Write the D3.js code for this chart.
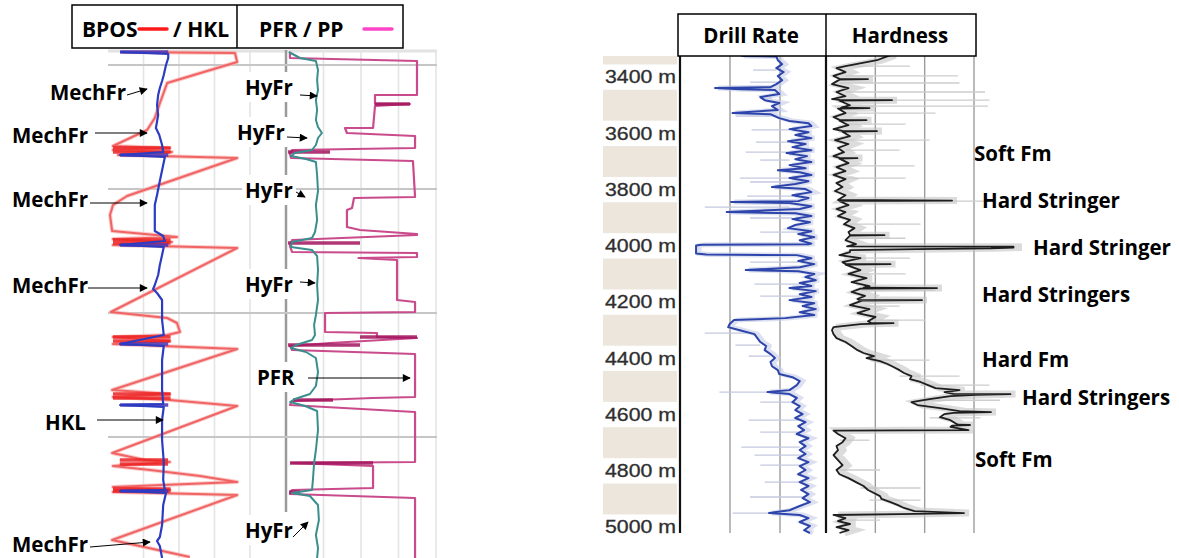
<!DOCTYPE html>
<html><head><meta charset="utf-8">
<script src="https://cdn.jsdelivr.net/npm/d3@7/dist/d3.min.js"></script>
<style>body{margin:0;background:#fff}svg{display:block}</style>
</head><body>
<svg id="c" width="1179" height="558"></svg>
<script>
// ---------------- DATA ----------------
// Left panel: time index (t) vs values
const bposData = [[2,2.8],[3,29.3],[12,29.8],[33,13.4],[53,11.7],[68,10.5],[80,8.7],[88,4.7],[96,0.7],[98,14],[100,0.7],[102,14.5],[105,1.9],[108,29.8],[146,4],[155,0.7],[165,0],[181,0.5],[187,15.7],[189,0.7],[192,14.5],[195,0.7],[198,29.8],[262,0.2],[268,13.4],[273,15.7],[282,16.4],[285,13.4],[287,0.7],[291,14],[294,0.7],[299,29.8],[340,0.5],[344,14],[347,0.7],[350,14],[356,29.8],[403,0.5],[410,8.2],[412,14],[416,0.7],[420,9.4],[426,21.1],[432,29.8],[437,0.7],[440,14],[442,0.7],[445,29.8],[490,0.5],[507,18.7]];
const bposSlips = [[98,0.7,14.2],[102,0.7,14.2],[190,0.7,14.2],[193,0.7,14.2],[287,0.7,14.2],[291,0.7,14.2],[344,0.7,14.2],[348,0.7,14.2],[410,2.3,13.6],[414,2.3,13.6],[439,0.7,14.2],[441,0.7,14.2]];
const hklData = [[2,18],[4,104],[8,104],[15,100],[25,96],[31,93],[38,89],[45,86],[55,84],[65,86],[78,82],[85,88],[95,93],[102,95],[105,18],[107,98],[115,95],[131,89],[145,84],[155,80],[170,80],[181,80],[186,95],[191,98],[195,18],[197,96],[205,93],[215,89],[225,86],[235,80],[239,77],[243,84],[250,93],[270,93],[285,96],[294,18],[296,96],[310,93],[340,93],[354,95],[355,18],[357,96],[370,93],[390,93],[412,96],[430,95],[440,98],[441,18],[443,100],[455,95],[475,93],[487,89],[491,84],[496,89],[508,93]];
const hklSlips = [[2,18,104],[105,18,104],[195,18,104],[294,18,104],[355,18,104],[441,18,104]];
const pfrData = [[2,13],[8,13],[11,860],[45,860],[45,580],[54,580],[54,813],[56,580],[78,567],[78,380],[83,393],[86,847],[98,847],[100,27],[104,13],[108,20],[111,833],[147,847],[148,440],[158,427],[160,393],[177,393],[180,480],[184,860],[185,860],[190,27],[196,13],[202,27],[203,860],[207,860],[208,470],[210,727],[250,727],[252,847],[262,847],[263,247],[282,247],[283,593],[287,593],[288,860],[293,280],[296,13],[300,27],[304,847],[347,847],[348,567],[351,27],[355,13],[362,847],[412,847],[413,27],[416,567],[438,567],[440,27],[444,13],[448,847],[508,847]];
const pfrSlips = [[54,580,813],[102,0,280],[193,0,480],[287,480,860],[295,0,480],[350,33,300],[413,13,567],[442,7,80]];
const ppData = [[2,3],[8,40],[11,93],[20,100],[30,97],[40,100],[50,93],[60,97],[70,93],[77,100],[83,113],[88,100],[95,93],[100,80],[103,23],[106,10],[109,60],[112,93],[125,97],[141,100],[155,93],[170,97],[182,90],[188,80],[192,13],[197,10],[200,80],[206,97],[220,100],[235,97],[250,100],[265,93],[275,87],[285,90],[290,80],[295,27],[298,10],[302,60],[308,93],[322,100],[336,93],[344,73],[349,23],[352,7],[356,57],[361,97],[380,100],[400,93],[413,87],[430,83],[440,80],[443,13],[446,73],[455,100],[470,103],[485,93],[498,100],[508,97]];
const leftGridTimes = [15, 139, 263, 387];
const leftGridCols = [1, 2, 3, 4];

// Right panel: depth (m) vs values
const depthTicks = [3400, 3600, 3800, 4000, 4200, 4400, 4600, 4800, 5000];
const depthBands = [3300, 3500, 3700, 3900, 4100, 4300, 4500, 4700, 4900];
const drillRate = [[3325,42],[3327,66],[3340,67],[3354,70],[3368,66],[3382,71],[3396,67],[3411,70],[3425,66],[3436,62],[3439,24],[3443,41],[3446,65],[3460,68],[3471,55],[3482,58],[3492,68],[3503,63],[3517,67],[3528,36],[3532,62],[3546,68],[3556,75],[3564,88],[3574,90],[3585,75],[3596,88],[3606,79],[3617,90],[3628,74],[3638,86],[3649,77],[3660,90],[3670,73],[3681,87],[3692,79],[3702,90],[3713,75],[3724,86],[3731,67],[3738,82],[3748,90],[3759,75],[3770,88],[3780,79],[3791,63],[3798,86],[3809,90],[3820,77],[3830,88],[3841,81],[3844,35],[3848,75],[3859,90],[3869,82],[3880,32],[3884,79],[3894,90],[3905,77],[3916,89],[3926,79],[3937,74],[3948,90],[3958,81],[3969,92],[3980,82],[3992,90],[3994,88],[3996,15],[3999,11],[4027,11],[4031,18],[4033,80],[4044,90],[4054,81],[4065,92],[4076,82],[4086,45],[4090,81],[4100,92],[4111,86],[4122,93],[4132,82],[4143,90],[4150,75],[4161,93],[4172,82],[4182,90],[4193,75],[4204,92],[4214,84],[4225,93],[4236,82],[4246,92],[4257,72],[4264,37],[4278,34],[4289,33],[4300,41],[4314,51],[4328,53],[4342,55],[4356,59],[4371,58],[4385,62],[4399,65],[4413,62],[4428,63],[4442,67],[4456,68],[4467,77],[4481,82],[4495,80],[4513,75],[4520,60],[4527,75],[4541,80],[4556,77],[4570,82],[4584,79],[4598,84],[4612,79],[4627,86],[4641,81],[4655,85],[4669,80],[4684,88],[4698,82],[4712,86],[4726,82],[4740,86],[4755,81],[4769,88],[4783,82],[4797,86],[4812,81],[4826,88],[4840,82],[4854,88],[4868,83],[4883,88],[4897,84],[4911,89],[4925,82],[4940,75],[4950,61],[4957,82],[4968,88],[4982,82],[4996,89],[5011,85],[5021,89]];
const drillSpikes = [[3375,50,66],[3418,48,67],[3475,55,63],[3539,38,62],[3588,49,75],[3631,52,74],[3667,45,74],[3695,55,75],[3759,41,75],[3773,48,82],[3823,46,77],[3862,17,75],[3901,48,77],[3951,55,82],[4058,48,81],[4136,51,82],[4179,55,82],[4310,17,51],[4353,38,55],[4392,47,62],[4520,27,60],[4556,55,77],[4620,47,81],[4662,55,82],[4716,42,82],[4744,51,84],[4780,55,82],[4840,58,86],[4893,48,84],[4950,36,61]];
const hardness = [[3322,43],[3340,34],[3361,13],[3368,7],[3382,13],[3396,5],[3406,9],[3407,28],[3409,9],[3425,4],[3439,15],[3453,7],[3468,13],[3478,4],[3481,9],[3482,44],[3484,9],[3500,16],[3509,10],[3510,29],[3512,8],[3528,13],[3542,5],[3552,9],[3553,27],[3555,9],[3571,15],[3585,5],[3591,11],[3592,34],[3594,11],[3610,16],[3624,6],[3638,15],[3652,8],[3667,12],[3681,5],[3687,9],[3688,21],[3690,9],[3706,15],[3720,7],[3734,13],[3748,5],[3763,13],[3777,7],[3791,11],[3805,6],[3820,13],[3837,8],[3839,84],[3841,9],[3855,15],[3869,7],[3880,13],[3894,8],[3908,16],[3923,12],[3937,19],[3951,15],[3961,16],[3962,39],[3964,16],[3980,13],[3994,20],[4002,14],[4003,125],[4006,125],[4009,110],[4012,60],[4015,16],[4022,16],[4033,9],[4044,23],[4058,11],[4064,13],[4065,43],[4067,13],[4086,23],[4100,15],[4115,27],[4129,17],[4143,29],[4149,25],[4150,74],[4152,23],[4164,17],[4178,26],[4189,21],[4192,22],[4193,64],[4195,24],[4211,16],[4225,29],[4239,21],[4253,33],[4268,28],[4274,30],[4275,45],[4278,23],[4289,5],[4300,4],[4314,5],[4328,7],[4342,13],[4356,17],[4371,21],[4381,25],[4392,32],[4399,27],[4410,36],[4420,41],[4431,45],[4442,49],[4452,52],[4463,57],[4474,56],[4484,63],[4495,68],[4506,73],[4513,89],[4520,79],[4526,85],[4527,123],[4530,100],[4534,83],[4545,69],[4556,57],[4566,61],[4577,76],[4588,89],[4591,110],[4594,85],[4598,79],[4609,76],[4620,83],[4630,86],[4636,88],[4637,96],[4639,84],[4644,83],[4655,95],[4656,50],[4657,5],[4669,8],[4684,13],[4698,11],[4712,7],[4726,8],[4744,5],[4762,8],[4780,11],[4797,7],[4812,9],[4826,15],[4840,20],[4854,25],[4868,28],[4879,32],[4890,36],[4900,37],[4911,43],[4922,48],[4932,52],[4943,59],[4950,92],[4954,49],[4957,5],[4968,13],[4979,8],[4989,16],[5000,7],[5011,15],[5021,9]];
const hardSpikes = [[3361,16,56],[3396,13,88],[3421,9,89],[3453,13,106],[3482,16,109],[3503,16,108],[3528,13,73],[3567,13,53],[3624,9,69],[3660,13,49],[3716,9,59],[3759,9,53],[3841,84,108],[3923,16,63],[3973,16,53],[4044,16,56],[4100,16,53],[4157,23,73],[4214,23,49],[4264,29,66],[4406,29,69],[4463,49,89],[4495,63,109],[4549,63,116],[4612,69,103],[4691,9,29],[4797,9,36],[4861,23,63],[4904,29,63],[4975,9,36]];
const rightNotes = ["Soft Fm","Hard Stringer","Hard Stringer","Hard Stringers","Hard Fm","Hard Stringers","Soft Fm"];

// ---------------- SCALES ----------------
const tY = d3.scaleLinear().domain([0,508]).range([50,558]);
const bposX = d3.scaleLinear().domain([0,30]).range([110,238]);
const hklX = d3.scaleLinear().domain([0,250]).range([110,250]);
const pfrX = d3.scaleLinear().domain([0,1000]).range([288,438]);
const ppX = d3.scaleLinear().domain([0,500]).range([288,438]);
const gridL1 = d3.scaleLinear().domain([0,4]).range([108,250]);
const gridL2 = d3.scaleLinear().domain([0,4]).range([286,436]);

const dY = d3.scaleLinear().domain([3325,5021]).range([56,533]);
const drillX = d3.scaleLinear().domain([0,100]).range([680,826]);
const hardX = d3.scaleLinear().domain([0,100]).range([826,976]);
const gridR1 = d3.scaleLinear().domain([0,3]).range([680,830]);
const gridR2 = d3.scaleLinear().domain([0,3]).range([826,974]);

const svg = d3.select("#c");
const FONT = "'Open Sans', 'DejaVu Sans', sans-serif";

svg.append("defs").append("marker").attr("id","arr").attr("viewBox","0 0 10 10")
  .attr("refX",9).attr("refY",5).attr("markerWidth",9).attr("markerHeight",8)
  .attr("markerUnits","userSpaceOnUse").attr("orient","auto")
  .append("path").attr("d","M0,0L10,5L0,10Z").attr("fill","#000");

// ---------------- LEFT PANEL ----------------
const L = svg.append("g");
L.append("line").attr("x1",108).attr("x2",437).attr("y1",tY(1)).attr("y2",tY(1)).attr("stroke","#e2e2e2").attr("stroke-width",3);
L.selectAll(".vg1").data(leftGridCols).join("line")
  .attr("x1",d=>gridL1(d)).attr("x2",d=>gridL1(d)).attr("y1",tY(0)).attr("y2",tY(508))
  .attr("stroke","#e4e4e4").attr("stroke-width",1.6);
L.selectAll(".vg2").data(leftGridCols).join("line")
  .attr("x1",d=>gridL2(d)).attr("x2",d=>gridL2(d)).attr("y1",tY(0)).attr("y2",tY(508))
  .attr("stroke","#e4e4e4").attr("stroke-width",1.6);
L.append("line").attr("x1",gridL2(0)).attr("x2",gridL2(0)).attr("y1",tY(0)).attr("y2",tY(462))
  .attr("stroke","#9a9a9a").attr("stroke-width",2.5);
L.selectAll(".hg").data(leftGridTimes).join("line")
  .attr("x1",108).attr("x2",437).attr("y1",d=>tY(d)).attr("y2",d=>tY(d))
  .attr("stroke","#c6c6c6").attr("stroke-width",2);

const lineL = (xs) => d3.line().x(d=>xs(d[1])).y(d=>tY(d[0]));
L.append("path").datum(bposData).attr("d",lineL(bposX)).attr("fill","none")
  .attr("stroke","#f8b4b4").attr("stroke-width",4).attr("stroke-linejoin","round").attr("opacity",0.7);
L.append("path").datum(bposData).attr("d",lineL(bposX)).attr("fill","none")
  .attr("stroke","#f06464").attr("stroke-width",2).attr("stroke-linejoin","round");
L.selectAll(".bs").data(bposSlips).join("line")
  .attr("x1",d=>bposX(d[1])).attr("x2",d=>bposX(d[2])).attr("y1",d=>tY(d[0])).attr("y2",d=>tY(d[0]))
  .attr("stroke","#ee2222").attr("stroke-width",3.5).attr("opacity",0.85);
L.selectAll(".hs").data(hklSlips).join("line")
  .attr("x1",d=>hklX(d[1])).attr("x2",d=>hklX(d[2])).attr("y1",d=>tY(d[0])).attr("y2",d=>tY(d[0]))
  .attr("stroke","#4a35b5").attr("stroke-width",3.5).attr("opacity",0.85);
L.append("path").datum(hklData).attr("d",lineL(hklX)).attr("fill","none")
  .attr("stroke","#2c3cc2").attr("stroke-width",2.2).attr("stroke-linejoin","round");

L.append("path").datum(pfrData).attr("d",lineL(pfrX)).attr("fill","none")
  .attr("stroke","#c94b8c").attr("stroke-width",2.2).attr("stroke-linejoin","round");
L.selectAll(".ps").data(pfrSlips).join("line")
  .attr("x1",d=>pfrX(d[1])).attr("x2",d=>pfrX(d[2])).attr("y1",d=>tY(d[0])).attr("y2",d=>tY(d[0]))
  .attr("stroke","#a3145e").attr("stroke-width",3.5).attr("opacity",0.85);
L.append("path").datum(ppData).attr("d",lineL(ppX)).attr("fill","none")
  .attr("stroke","#3a8f8e").attr("stroke-width",2).attr("stroke-linejoin","round");

// left labels (annotations)
const leftNotes = [
  {t:"MechFr", x:50, y:100, a:[127,95,147,89]},
  {t:"MechFr", x:12, y:143, a:[95,133,147,133]},
  {t:"MechFr", x:12, y:207, a:[90,203,147,203]},
  {t:"MechFr", x:12, y:293, a:[88,288,147,288]},
  {t:"HKL", x:45, y:430, a:[97,420,163,420]},
  {t:"MechFr", x:12, y:552, a:[90,547,150,542]},
  {t:"HyFr", x:245, y:95, a:[300,95,317,96]},
  {t:"HyFr", x:237, y:140, a:[287,137,307,138]},
  {t:"HyFr", x:245, y:198, a:[296,192,305,197]},
  {t:"HyFr", x:245, y:292, a:[300,282,315,283]},
  {t:"PFR", x:257, y:385, a:[308,378,410,378]},
  {t:"HyFr", x:245, y:538, a:[293,537,308,522]}
];
const N = svg.append("g");
leftNotes.forEach(n => {
  const bg = N.append("rect").attr("fill","#fff");
  const tx = N.append("text").attr("x",n.x).attr("y",n.y).text(n.t)
    .attr("font-family",FONT).attr("font-weight",700).attr("font-size",20.5).attr("fill","#000");
  const b = tx.node().getBBox();
  bg.attr("x",b.x-3).attr("y",b.y-1).attr("width",b.width+6).attr("height",b.height+2);
  N.append("line").attr("x1",n.a[0]).attr("y1",n.a[1]).attr("x2",n.a[2]).attr("y2",n.a[3])
    .attr("stroke","#000").attr("stroke-width",1).attr("marker-end","url(#arr)");
});

// left header
const H = svg.append("g");
H.append("rect").attr("x",72).attr("y",5).attr("width",331).attr("height",43).attr("fill","#fff").attr("stroke","#000").attr("stroke-width",1.5);
H.append("line").attr("x1",237).attr("x2",237).attr("y1",5).attr("y2",48).attr("stroke","#000").attr("stroke-width",1.5);
const ht = (x,s) => H.append("text").attr("x",x).attr("y",37).text(s).attr("font-family",FONT).attr("font-weight",700).attr("font-size",21).attr("fill","#000");
ht(82,"BPOS"); ht(173,"/ HKL"); ht(259,"PFR / PP");
H.append("line").attr("x1",139).attr("x2",167).attr("y1",29).attr("y2",29).attr("stroke","#ff1a1a").attr("stroke-width",3.5).attr("stroke-linecap","round");
H.append("line").attr("x1",364).attr("x2",392).attr("y1",29).attr("y2",29).attr("stroke","#ff45c8").attr("stroke-width",3.5).attr("stroke-linecap","round");

// ---------------- RIGHT PANEL ----------------
const R = svg.append("g");
R.selectAll(".band").data(depthBands).join("rect")
  .attr("x",603).attr("width",74)
  .attr("y",d=>Math.max(56,dY(d-55))).attr("height",d=>dY(d+55)-Math.max(56,dY(d-55)))
  .attr("fill","#ece6dd");
const ax = R.append("g").attr("transform","translate(676,0)")
  .call(d3.axisLeft(dY).tickValues(depthTicks).tickFormat(d=>d+" m").tickSize(0).tickPadding(0));
ax.select(".domain").remove();
ax.selectAll("text").attr("font-family","'Liberation Sans', Arial, sans-serif").attr("font-size",18)
  .attr("fill","#2e2e2e").attr("stroke","#2e2e2e").attr("stroke-width",0.3)
  .attr("textLength",71).attr("lengthAdjust","spacingAndGlyphs");

R.selectAll(".rg1").data([1,2]).join("line")
  .attr("x1",d=>gridR1(d)).attr("x2",d=>gridR1(d)).attr("y1",56).attr("y2",533)
  .attr("stroke","#9c9c9c").attr("stroke-width",1.4);
R.selectAll(".rg2").data([1,2,3]).join("line")
  .attr("x1",d=>gridR2(d)).attr("x2",d=>gridR2(d)).attr("y1",56).attr("y2",533)
  .attr("stroke","#9c9c9c").attr("stroke-width",1.4);

R.selectAll(".ds").data(drillSpikes).join("line")
  .attr("x1",d=>drillX(d[1])).attr("x2",d=>drillX(d[2])).attr("y1",d=>dY(d[0])).attr("y2",d=>dY(d[0]))
  .attr("stroke","#c3c8de").attr("stroke-width",1.3);
const lineR = (xs) => d3.line().x(d=>xs(d[1])).y(d=>dY(d[0]));
R.append("path").datum(drillRate).attr("d",lineR(drillX)).attr("fill","none")
  .attr("stroke","#c5cbe6").attr("stroke-width",5).attr("transform","translate(3,0)").attr("opacity",0.6);
R.append("path").datum(drillRate).attr("d",lineR(drillX)).attr("fill","none")
  .attr("stroke","#2d45aa").attr("stroke-width",2).attr("stroke-linejoin","round");

R.selectAll(".hsp").data(hardSpikes).join("line")
  .attr("x1",d=>hardX(d[1])).attr("x2",d=>hardX(d[2])).attr("y1",d=>dY(d[0])).attr("y2",d=>dY(d[0]))
  .attr("stroke","#cdcdcd").attr("stroke-width",1.3);
R.append("path").datum(hardness).attr("d",lineR(hardX)).attr("fill","none")
  .attr("stroke","#c4c4c4").attr("stroke-width",7).attr("transform","translate(5,0)").attr("opacity",0.6);
R.append("path").datum(hardness).attr("d",lineR(hardX)).attr("fill","none")
  .attr("stroke","#1e1e1e").attr("stroke-width",1.8).attr("stroke-linejoin","round");

R.selectAll(".bord").data([drillX(0), hardX(0)]).join("line")
  .attr("x1",d=>d).attr("x2",d=>d).attr("y1",56).attr("y2",533)
  .attr("stroke","#111").attr("stroke-width",2.2);

// right header
R.append("rect").attr("x",678).attr("y",14).attr("width",298).attr("height",42).attr("fill","#fff").attr("stroke","#000").attr("stroke-width",1.5);
R.append("line").attr("x1",826).attr("x2",826).attr("y1",14).attr("y2",56).attr("stroke","#000").attr("stroke-width",1.5);
R.append("text").attr("x",751).attr("y",43).attr("text-anchor","middle").text("Drill Rate")
  .attr("font-family",FONT).attr("font-weight",700).attr("font-size",20.5);
R.append("text").attr("x",900).attr("y",43).attr("text-anchor","middle").text("Hardness")
  .attr("font-family",FONT).attr("font-weight",700).attr("font-size",20.5);

// right annotations
const notePos = [[974,161],[982,208],[1033,255],[982,302],[982,367],[1022,405],[975,467]];
R.selectAll(".note").data(rightNotes).join("text")
  .attr("x",(d,i)=>notePos[i][0]).attr("y",(d,i)=>notePos[i][1]).text(d=>d)
  .attr("font-family",FONT).attr("font-weight",700).attr("font-size",20.5).attr("fill","#000");
</script>
</body></html>
